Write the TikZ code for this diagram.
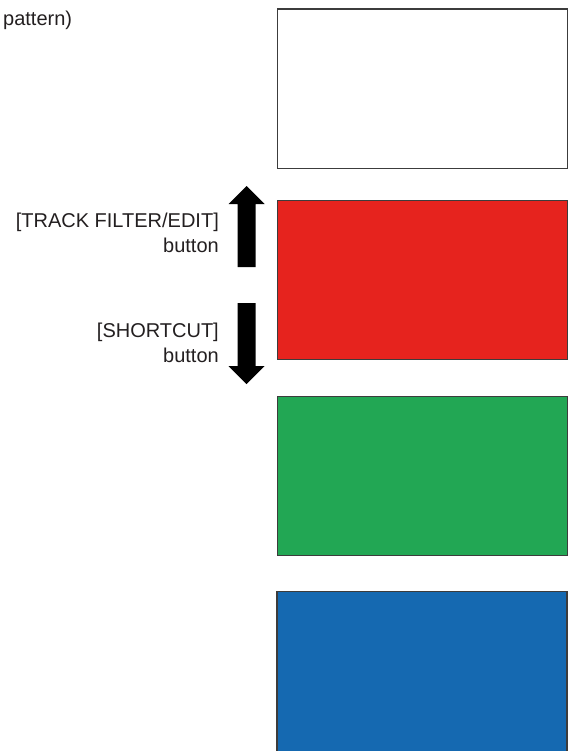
\documentclass[tikz,border=0pt]{standalone}
\usepackage{fontspec}
\setmainfont{Liberation Sans}
\definecolor{txt}{HTML}{231F20}
\definecolor{edge}{HTML}{3C3C3C}
\definecolor{boxred}{HTML}{E6231E}
\definecolor{boxgreen}{HTML}{22A754}
\definecolor{boxblue}{HTML}{1569B1}
\tikzset{
  lbl/.style={inner sep=0pt, anchor=base east, text=txt, font=\fontsize{20bp}{25bp}\selectfont},
  lblw/.style={inner sep=0pt, anchor=base west, text=txt, font=\fontsize{20bp}{25bp}\selectfont},
  screen/.style={draw=edge, line width=1.4bp, inner sep=0pt, minimum width=290bp, minimum height=159bp, anchor=north west},
  bigarrow/.style={fill=black, draw=none}
}
\begin{document}
\begin{tikzpicture}[x=1bp,y=-1bp]
\useasboundingbox (0,0) rectangle (575,751);
% label at top-left
\node[lblw] (pat) at (3,26) {pattern)};
% screens
\node[screen, fill=white] (white) at (277,8.5) {};
\node[screen, fill=boxred] (red) at (277,200) {};
\node[screen, fill=boxgreen] (green) at (277,395.5) {};
% blue screen runs off the bottom edge
\fill[boxblue] (277,591.5) rectangle (567,751);
\draw[edge, line width=1.4bp] (277,751) -- (277,591.5) -- (567,591.5) -- (567,751);
\coordinate (blue) at (422,671);
% arrows
\fill[bigarrow] (237.5,267) -- (237.5,204) -- (228.5,204) -- (246.5,186) -- (264.5,204) -- (255.5,204) -- (255.5,267) -- cycle;
\fill[bigarrow] (237.5,303) -- (237.5,366) -- (228.5,366) -- (246.5,384) -- (264.5,366) -- (255.5,366) -- (255.5,303) -- cycle;
% labels
\node[lbl] (tf1) at (219,227) {[TRACK FILTER/EDIT]};
\node[lbl] (tf2) at (219,252) {button};
\node[lbl] (sc1) at (219,337) {[SHORTCUT]};
\node[lbl] (sc2) at (219,362) {button};
\end{tikzpicture}
\end{document}
